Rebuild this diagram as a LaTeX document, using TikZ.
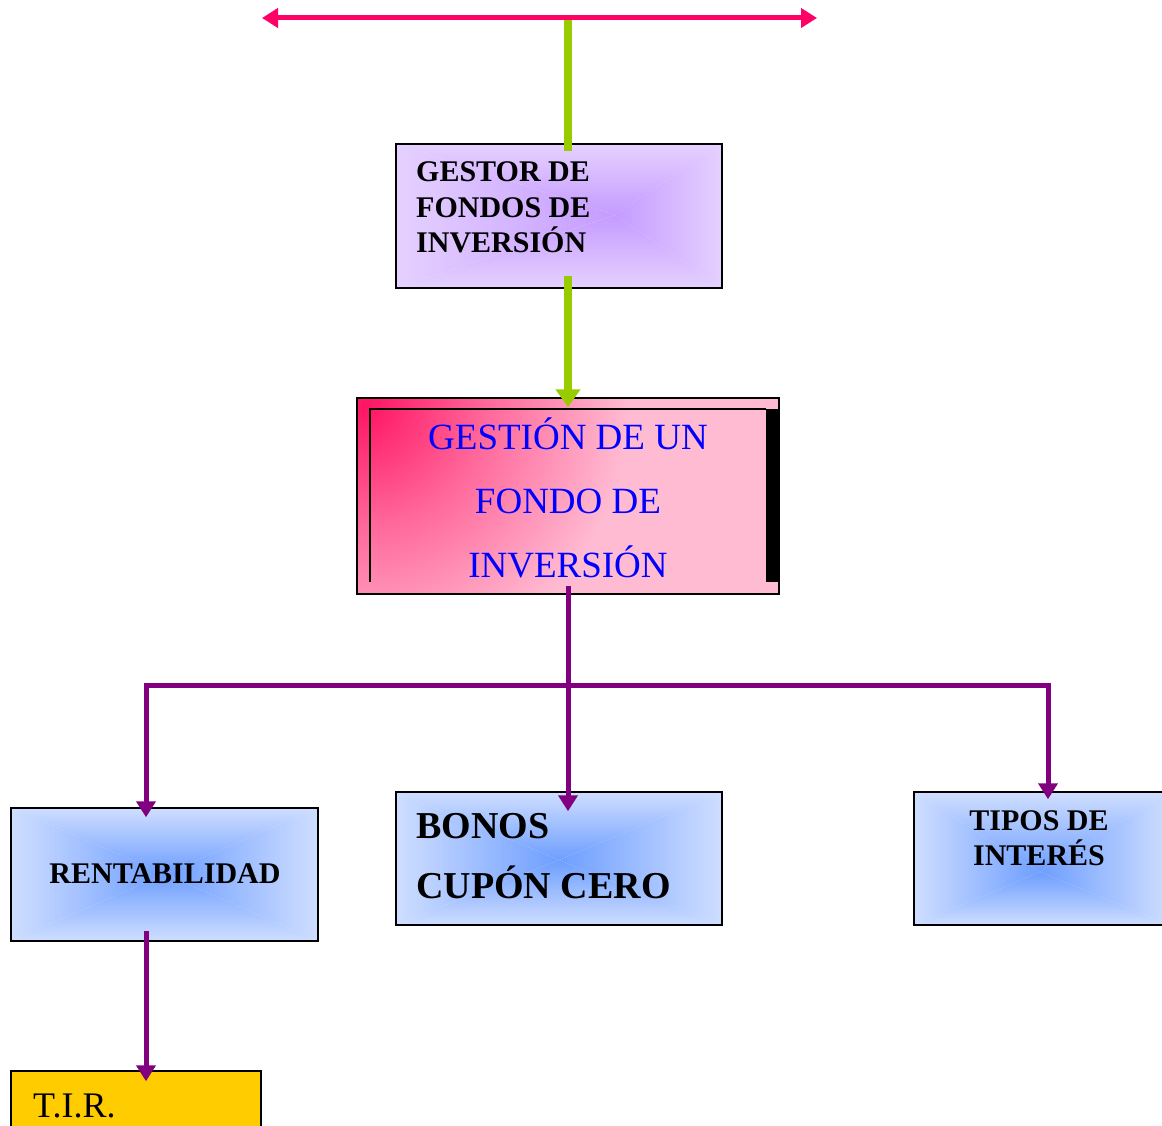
\documentclass[tikz,border=0pt]{standalone}
\usepackage{fontspec}
\setmainfont{Liberation Serif}
\usetikzlibrary{arrows.meta,calc}

\definecolor{hotline}{HTML}{FF0066}
\definecolor{lime}{HTML}{99CC00}
\definecolor{plum}{HTML}{800080}
\definecolor{lilacin}{HTML}{C59BFF}
\definecolor{lilacout}{HTML}{E5D1FF}
\definecolor{rosein}{HTML}{FF1463}
\definecolor{roseout}{HTML}{FFBBD2}
\definecolor{bluein}{HTML}{6E9EFF}
\definecolor{blueout}{HTML}{CFDEFF}
\definecolor{gold}{HTML}{FFCC00}
\definecolor{textblue}{HTML}{0000FF}

% rectangular gradient: x1 y1 x2 y2 (corners), cx cy (centre), inner, outer
\newcommand\rectgrad[8]{%
  \shade[top color=#8,bottom color=#7] (#1,#2) -- (#3,#2) -- (#5,#6) -- cycle;
  \shade[top color=#7,bottom color=#8] (#1,#4) -- (#3,#4) -- (#5,#6) -- cycle;
  \shade[left color=#8,right color=#7] (#1,#2) -- (#1,#4) -- (#5,#6) -- cycle;
  \shade[left color=#7,right color=#8] (#3,#2) -- (#3,#4) -- (#5,#6) -- cycle;
}

% corner glow for the central box (the circle radius maps to 25bp)
\pgfdeclareradialshading{cornerglow}{\pgfpoint{0bp}{0bp}}{%
  color(0bp)=(rosein); color(10bp)=(rosein!50!roseout);
  color(22bp)=(roseout); color(50bp)=(roseout)}

\tikzset{
  box/.style={draw=black, line width=1.5pt, inner sep=0pt, rectangle},
  label/.style={inner sep=0pt, font=\bfseries\fontsize{30}{36}\selectfont},
  bigbold/.style={inner sep=0pt, font=\bfseries\fontsize{38}{44}\selectfont},
  bluetext/.style={inner sep=0pt, text=textblue, font=\fontsize{37}{44}\selectfont},
  greenarrow/.style={draw=lime, line width=8pt},
  purplearrow/.style={draw=plum, line width=5pt},
}

\begin{document}
\begin{tikzpicture}[x=1pt,y=-1pt]
\useasboundingbox (0,0) rectangle (1162,1126);

% ---- box backgrounds ----
\rectgrad{396}{144}{722}{288}{615}{215}{lilacin}{lilacout}
\begin{scope}
  \clip (357,398) rectangle (779,594);
  \fill[roseout] (357,398) rectangle (779,594);
  \shade[shading=cornerglow] (365,405) circle (300);
\end{scope}
\rectgrad{11}{808}{318}{941}{165}{874}{bluein}{blueout}
\rectgrad{396}{792}{722}{925}{559}{860}{bluein}{blueout}
\rectgrad{914}{792}{1170}{925}{1040}{872}{bluein}{blueout}
\fill[gold] (11,1071) rectangle (261,1140);

% ---- boxes ----
\node[box, minimum width=326pt, minimum height=144pt] (gestor) at (559,216) {};
\node[box, minimum width=422pt, minimum height=196pt] (gestion) at (568,496) {};
\node[box, minimum width=307pt, minimum height=133pt] (rent) at (164.5,874.5) {};
\node[box, minimum width=326pt, minimum height=133pt] (bonos) at (559,858.5) {};
\node[box, minimum width=256pt, minimum height=133pt] (tipos) at (1042,858.5) {};
\node[box, minimum width=250pt, minimum height=69pt] (tir) at (136,1105.5) {};

% inner frame and dark edge of the central box
\draw[line width=2pt] (370,582) -- (370,409) -- (766,409);
\fill[black] (766,409) rectangle (779,582);

% ---- texts ----
\node[label, anchor=base west] (g1) at (416,182) {GESTOR DE};
\node[label, anchor=base west] (g2) at (416,218) {FONDOS DE};
\node[label, anchor=base west] (g3) at (416,253) {INVERSIÓN};

\node[bluetext, anchor=base] (f1) at (568,449) {GESTIÓN DE UN};
\node[bluetext, anchor=base] (f2) at (568,513) {FONDO DE};
\node[bluetext, anchor=base] (f3) at (568,577) {INVERSIÓN};

\node[label, anchor=base] (r1) at (165,883) {RENTABILIDAD};

\node[bigbold, anchor=base west] (b1) at (416,838) {BONOS};
\node[bigbold, anchor=base west] (b2) at (416,898) {CUPÓN CERO};

\node[label, anchor=base] (t1) at (1039,830) {TIPOS DE};
\node[label, anchor=base] (t2) at (1039,865) {INTERÉS};

\node[inner sep=0pt, anchor=base west, font=\fontsize{36}{42}\selectfont] (tirtext) at (33,1117) {T.I.R.};

% ---- connectors ----
\coordinate (pl) at (262,18);
\coordinate (pr) at (817,18);
\coordinate (ptop) at (568,18);
\coordinate (junL) at (146,685);
\coordinate (junR) at (1048,685);

\draw[greenarrow] (ptop) -- ($(gestor.north)+(9,8)$);
\draw[greenarrow, -{Triangle[length=18pt,width=24pt]}]
  ($(gestor.south)+(9,-13)$) -- ($(gestion.north)+(0,10)$);

\draw[draw=hotline, line width=5pt,
  {Triangle[length=16pt,width=19pt]}-{Triangle[length=16pt,width=19pt]}] (pl) -- (pr);

\draw[purplearrow, line cap=rect] (junL) -- (junR);
\draw[purplearrow, -{Triangle[length=16pt,width=19pt]}]
  ($(gestion.south)+(0,-9)$) -- ($(gestion.south |- bonos.north)+(0,20)$);
\draw[purplearrow, -{Triangle[length=16pt,width=19pt]}]
  (junL) -- ($(junL |- rent.north)+(0,10)$);
\draw[purplearrow, -{Triangle[length=16pt,width=19pt]}]
  (junR) -- ($(junR |- tipos.north)+(0,8)$);
\draw[purplearrow, -{Triangle[length=16pt,width=19pt]}]
  ($(junL |- rent.south)+(0,-11)$) -- ($(junL |- tir.north)+(0,11)$);
\end{tikzpicture}
\end{document}
